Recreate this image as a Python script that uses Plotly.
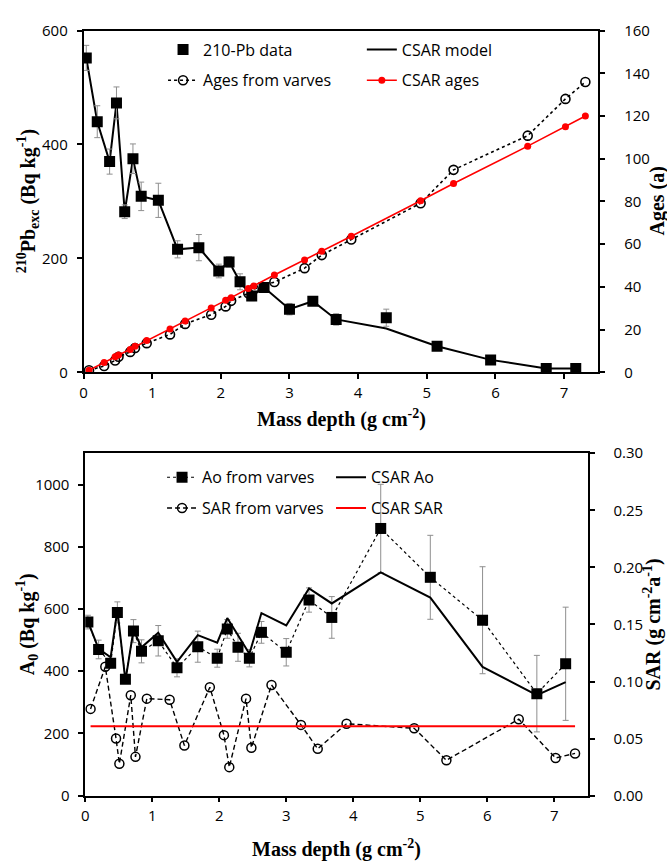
import plotly.graph_objects as go

# ---------------- data ----------------
# mass depth of the 210Pb / A0 samples (g cm-2)
depth_pb = [0.04, 0.20, 0.38, 0.48, 0.60, 0.72, 0.84, 1.09, 1.37, 1.68, 1.97, 2.12,
            2.28, 2.45, 2.63, 3.00, 3.34, 3.68, 4.41, 5.15, 5.93, 6.74, 7.17]
pb_exc = [552, 440, 370, 473, 282, 375, 309, 302, 216, 219, 178, 194,
          159, 134, 149, 111, 125, 93, 96, 46, 22, 7, 7]
pb_err = [22, 28, 22, 28, 12, 26, 25, 30, 15, 23, 12, 9,
          14, 8, 8, 10, 6, 10, 15, 6, 3, 2, 2]
csar_model = [552, 440, 370, 473, 282, 375, 309, 302, 216, 219, 178, 194,
              159, 134, 149, 111, 125, 93, 77, 46, 22, 7, 7]

# mass depth of the varve-dated levels (g cm-2)
depth_varve = [0.08, 0.30, 0.46, 0.51, 0.68, 0.75, 0.92, 1.26, 1.48, 1.86, 2.07, 2.15,
               2.40, 2.48, 2.78, 3.22, 3.47, 3.90, 4.91, 5.39, 6.47, 7.02, 7.31]
age_varve = [1, 3, 5.6, 7.3, 9.6, 11.4, 13.7, 17.8, 22.7, 27, 30.9, 33.5,
             37, 39, 42.3, 48.8, 54.9, 62.2, 79.2, 94.8, 110.8, 128, 135.9]
age_csar = [1, 4.6, 7.3, 8.1, 10.7, 12.2, 14.9, 20.3, 24.1, 30.2, 33.8, 35.0,
            39.3, 40.5, 45.6, 52.6, 56.7, 63.7, 80.3, 88.4, 105.9, 115, 120]

# initial activity A0 (Bq kg-1)
a0_varve = [558, 470, 426, 589, 374, 529, 464, 498, 411, 479, 442, 536,
            477, 442, 525, 461, 629, 573, 859, 702, 564, 328, 424]
a0_err = [22, 30, 15, 34, 10, 37, 37, 49, 29, 50, 29, 30,
          45, 28, 35, 44, 39, 67, 142, 135, 172, 123, 182]
a0_csar = [560, 472, 445, 597, 370, 532, 477, 524, 430, 516, 492, 571,
           516, 456, 587, 547, 666, 618, 718, 637, 414, 323, 365]

# sediment accumulation rate (g cm-2 a-1)
sar_varve = [0.076, 0.113, 0.050, 0.028, 0.088, 0.034, 0.085, 0.084, 0.044, 0.095, 0.053, 0.025,
             0.085, 0.042, 0.097, 0.062, 0.041, 0.063, 0.059, 0.031, 0.067, 0.033, 0.037]
sar_csar = [0.0607] * len(depth_varve)

# ---------------- layout helpers ----------------
W, H = 667, 862


def px(x):
    return x / W


def py(y):
    return 1 - y / H


TICK_FONT = dict(family="Open Sans", size=15, color="black")
TITLE_FONT = dict(family="Liberation Serif", size=20, color="black")
LEG_FONT = dict(family="Open Sans", size=16, color="black")
ERR_COLOR = "#8f8f8f"

fig = go.Figure()

# ---------------- top panel ----------------
fig.add_trace(go.Scatter(
    x=depth_pb, y=csar_model, mode="lines", name="CSAR model",
    line=dict(color="black", width=2), xaxis="x", yaxis="y",
    legend="legend2", legendgroup="m", legendrank=1))
fig.add_trace(go.Scatter(
    x=depth_varve, y=age_varve, mode="lines+markers", name="Ages from varves",
    line=dict(color="black", width=1.6, dash="dot"),
    marker=dict(symbol="circle-open", size=9, color="black", line=dict(width=1.6)),
    xaxis="x", yaxis="y2", legend="legend", legendgroup="v", legendrank=2))
fig.add_trace(go.Scatter(
    x=depth_varve, y=age_csar, mode="lines+markers", name="CSAR ages",
    line=dict(color="#ff0000", width=1.6),
    marker=dict(symbol="circle", size=7, color="#ff0000"),
    xaxis="x", yaxis="y2", legend="legend2", legendgroup="a", legendrank=2))
fig.add_trace(go.Scatter(
    x=depth_pb, y=pb_exc, mode="markers", name="210-Pb data",
    marker=dict(symbol="square", size=11, color="black"),
    error_y=dict(type="data", array=pb_err, color=ERR_COLOR, thickness=1, width=3),
    xaxis="x", yaxis="y", legend="legend", legendgroup="p", legendrank=1))

# ---------------- bottom panel ----------------
fig.add_trace(go.Scatter(
    x=depth_pb, y=a0_varve, mode="lines+markers", name="Ao from varves",
    line=dict(color="black", width=1.2, dash="dot"),
    marker=dict(symbol="square", size=11, color="black"),
    error_y=dict(type="data", array=a0_err, color=ERR_COLOR, thickness=1, width=3),
    xaxis="x2", yaxis="y3", legend="legend3", legendgroup="ao", legendrank=1))
fig.add_trace(go.Scatter(
    x=depth_pb, y=a0_csar, mode="lines", name="CSAR Ao",
    line=dict(color="black", width=2), xaxis="x2", yaxis="y3",
    legend="legend4", legendgroup="cao", legendrank=1))
fig.add_trace(go.Scatter(
    x=depth_varve, y=sar_varve, mode="lines+markers", name="SAR from varves",
    line=dict(color="black", width=1.4, dash="5px,3px"),
    marker=dict(symbol="circle-open", size=9, color="black", line=dict(width=1.5)),
    xaxis="x2", yaxis="y4", legend="legend3", legendgroup="sv", legendrank=2))
fig.add_trace(go.Scatter(
    x=depth_varve, y=sar_csar, mode="lines", name="CSAR SAR",
    line=dict(color="#ff0000", width=2), xaxis="x2", yaxis="y4",
    legend="legend4", legendgroup="cs", legendrank=2))

axis_common = dict(showline=True, linecolor="black", linewidth=1.5, ticks="outside",
                   ticklen=5, tickwidth=1.5, tickcolor="black", showgrid=False,
                   zeroline=False, tickfont=TICK_FONT)
x_common = dict(axis_common, ticklabelstandoff=1)
yl_common = dict(axis_common, ticklabelstandoff=6)
yr_common = dict(axis_common, ticklabelstandoff=16)

top_dom = [py(370), py(20)]
bot_dom = [py(803.3), py(452.7)]

fig.update_layout(
    width=W, height=H, margin=dict(l=0, r=0, t=0, b=0),
    paper_bgcolor="white", plot_bgcolor="white", showlegend=True,
    xaxis=dict(x_common, domain=[px(80), px(598)], range=[0, 7.5],
               tickvals=[0, 1, 2, 3, 4, 5, 6, 7], mirror=True, anchor="y"),
    yaxis=dict(yl_common, domain=top_dom, range=[0, 600], tickvals=[0, 200, 400, 600],
               anchor="x"),
    yaxis2=dict(yr_common, range=[0, 160], tickvals=list(range(0, 161, 20)),
                overlaying="y", side="right", anchor="x"),
    xaxis2=dict(x_common, domain=[px(81.7), px(587.3)], range=[0, 7.5],
                tickvals=[0, 1, 2, 3, 4, 5, 6, 7], mirror=True, anchor="y3"),
    yaxis3=dict(yl_common, domain=bot_dom, range=[0, 1101],
                tickvals=[0, 200, 400, 600, 800, 1000], anchor="x2"),
    yaxis4=dict(yr_common, range=[0, 0.30], tickvals=[0, 0.05, 0.10, 0.15, 0.20, 0.25, 0.30],
                tickformat=".2f", overlaying="y3", side="right", anchor="x2"),
)

leg_common = dict(bgcolor="rgba(0,0,0,0)", font=LEG_FONT, xanchor="left", yanchor="top",
                  tracegroupgap=7, itemwidth=30, traceorder="grouped")
fig.update_layout(
    legend=dict(leg_common, x=px(160), y=py(22)),
    legend2=dict(leg_common, x=px(360), y=py(22)),
    legend3=dict(leg_common, x=px(159), y=py(460)),
    legend4=dict(leg_common, x=px(329), y=py(460)),
)

annotations = [
    dict(text="<b>Mass depth (g cm<sup>-2</sup>)</b>", x=px(340), y=py(417)),
    dict(text="<b>Mass depth (g cm<sup>-2</sup>)</b>", x=px(335), y=py(857)),
    dict(text="<b><sup>210</sup>Pb<sub>exc</sub> (Bq kg<sup>-1</sup>)</b>", x=px(25), y=py(195),
         textangle=-90),
    dict(text="<b>Ages (a)</b>", x=px(657), y=py(195), textangle=-90),
    dict(text="<b>A<sub>0</sub> (Bq kg<sup>-1</sup>)</b>", x=px(24), y=py(628), textangle=-90),
    dict(text="<b>SAR (g cm<sup>-2</sup>a<sup>-1</sup>)</b>", x=px(652), y=py(628),
         textangle=-90),
]
for a in annotations:
    a.update(xref="paper", yref="paper", showarrow=False, font=TITLE_FONT,
             xanchor="center", yanchor="middle")
fig.update_layout(annotations=annotations)

fig.write_html("out.html")
